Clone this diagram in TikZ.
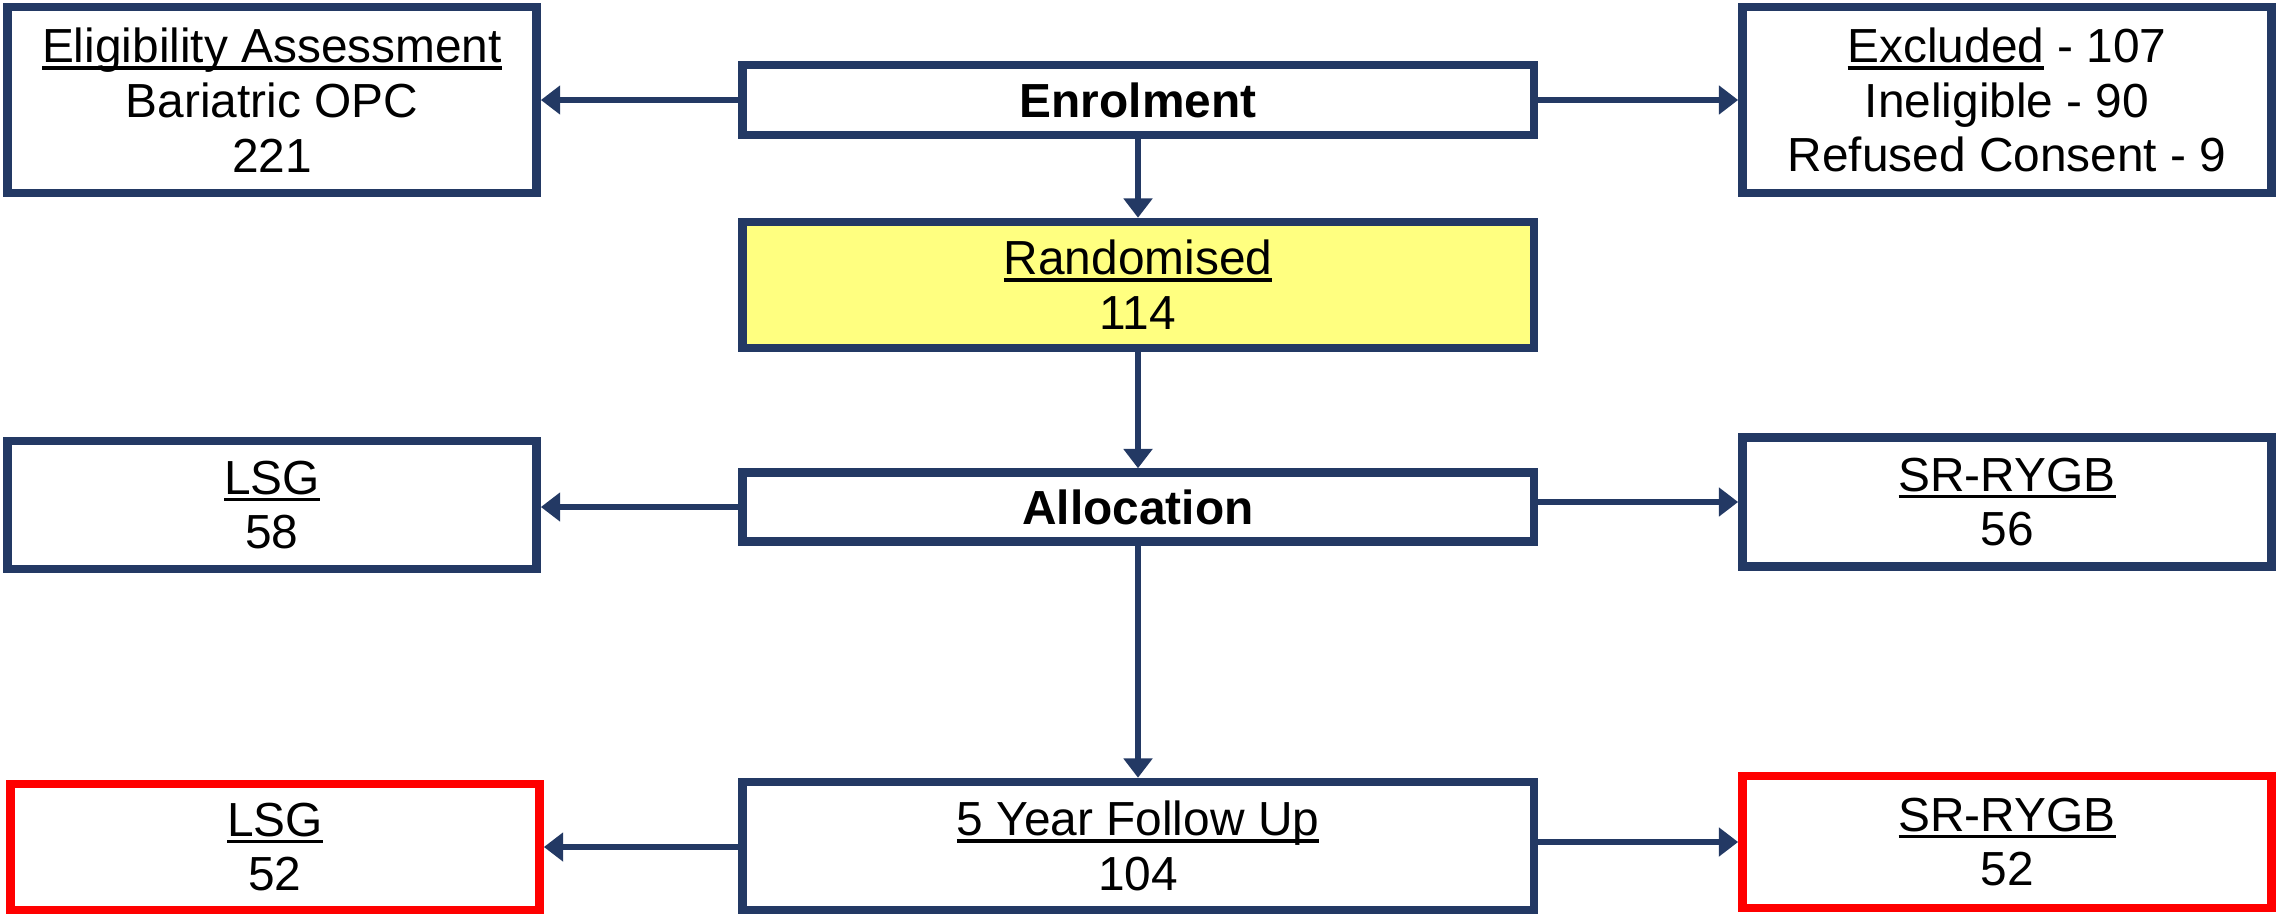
\documentclass[tikz,border=0pt]{standalone}
\usepackage{fontspec}
\setmainfont{Liberation Sans}
\usetikzlibrary{arrows.meta}
\definecolor{navy}{RGB}{35,57,100}
\definecolor{boxyellow}{RGB}{255,255,128}
\definecolor{boxred}{RGB}{255,0,0}
\newcommand\myul[1]{\setbox0\hbox{#1}\rlap{\rule[-2.1pt]{\wd0}{1.1pt}}\box0\relax}
\begin{document}
\begin{tikzpicture}[x=0.01cm,y=-0.01cm,
  box/.style={draw=navy, line width=2.4pt, fill=white, align=center, inner sep=0pt,
    font=\fontsize{13.6}{15.6}\selectfont, text=black},
  sidebox/.style={box, minimum width=5.29cm},
  midbox/.style={box, minimum width=7.91cm},
  redbox/.style={sidebox, draw=boxred},
  conn/.style={draw=navy, line width=1.8pt, -{Triangle[length=5.5pt,width=8pt]}}
]
\useasboundingbox (0,0) rectangle (2279,915);

\node[sidebox, minimum height=1.86cm] (elig) at (272,100) {\myul{Eligibility Assessment}\\Bariatric OPC\\221};
\node[midbox, minimum height=0.70cm] (enrol) at (1138,100) {\textbf{Enrolment}};
\node[sidebox, minimum height=1.86cm] (excl) at (2007,100) {\myul{Excluded} - 107\\Ineligible - 90\\Refused Consent - 9};
\node[midbox, fill=boxyellow, minimum height=1.26cm] (rand) at (1138,285) {\myul{Randomised}\\114};
\node[sidebox, minimum height=1.28cm] (lsga) at (272,505) {\myul{LSG}\\58};
\node[midbox, minimum height=0.69cm] (alloc) at (1138,507) {\textbf{Allocation}};
\node[sidebox, minimum height=1.29cm] (sra) at (2007,502) {\myul{SR-RYGB}\\56};
\node[redbox, minimum height=1.26cm] (lsgb) at (275,847) {\myul{LSG}\\52};
\node[midbox, minimum height=1.28cm] (five) at (1138,846) {\myul{5 Year Follow Up}\\104};
\node[redbox, minimum height=1.32cm] (srb) at (2007,842) {\myul{SR-RYGB}\\52};

\draw[conn] (enrol.west) -- (elig.east |- enrol.west);
\draw[conn] (enrol.east) -- (excl.west |- enrol.east);
\draw[conn] (enrol.south) -- (rand.north);
\draw[conn] (rand.south) -- (alloc.north);
\draw[conn] (alloc.west) -- (lsga.east |- alloc.west);
\draw[conn] (alloc.east |- sra.west) -- (sra.west);
\draw[conn] (alloc.south) -- (five.north);
\draw[conn] (five.west |- lsgb.east) -- (lsgb.east);
\draw[conn] (five.east |- srb.west) -- (srb.west);
\end{tikzpicture}
\end{document}
